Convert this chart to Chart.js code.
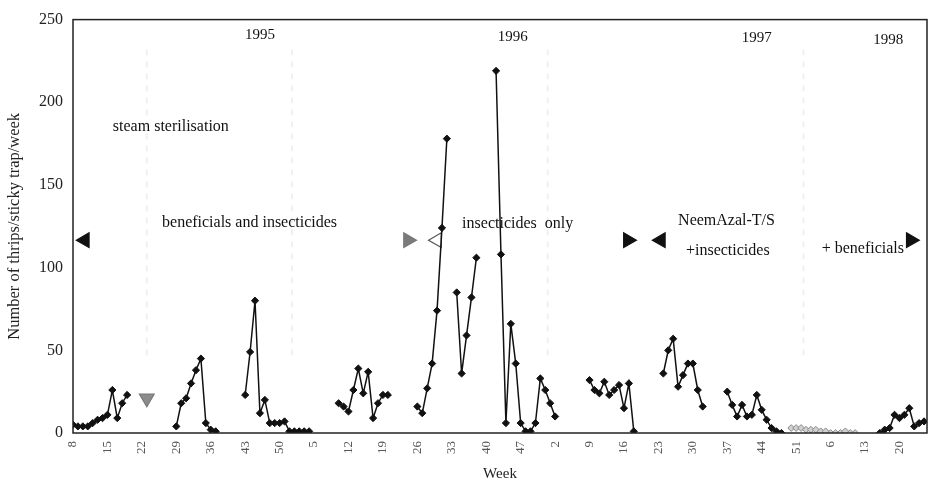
<!DOCTYPE html>
<html>
<head>
<meta charset="utf-8">
<title>Thrips on sticky traps 1995-1998</title>
<script src="https://cdn.jsdelivr.net/npm/chart.js@4"></script>
<style>
  html, body { margin: 0; padding: 0; background: #fff; }
  #wrap { width: 932px; height: 485px; }
</style>
</head>
<body>
<div id="wrap"><canvas id="chart-thrips"></canvas></div>
<script>
// weekly catches per sticky trap, null = no count that week
const counts1995 = [ // weeks 8-52
  5, 4, 4, 4, 6, 8, 9, 11, 26, 9, 18, 23,
  null, null, null, null, null, null, null, null, null,
  4, 18, 21, 30, 38, 45, 6, 2, 1,
  null, null, null, null, null,
  23, 49, 80, 12, 20, 6, 6, 6, 7, 1
];
const counts1996 = [ // weeks 1-52
  1, 1, 1, 1,
  null, null, null, null, null,
  18, 16, 13, 26, 39, 24, 37, 9, 18, 23, 23,
  null, null, null, null, null,
  16, 12, 27, 42, 74, 124, 178,
  null,
  85, 36, 59, 82, 106,
  null, null, null,
  219, 108, 6, 66, 42, 6, 1, 1, 6, 33, 26
];
const counts1997 = [ // weeks 1-52
  18, 10,
  null, null, null, null, null, null,
  32, 26, 24, 31, 23, 26, 29, 15, 30, 1,
  null, null, null, null, null,
  36, 50, 57, 28, 35, 42, 42, 26, 16,
  null, null, null, null,
  25, 17, 10, 17, 10, 11, 23, 14, 8, 3, 1, 0,
  null, null, null, null
];
const counts1998 = [ // weeks 1-25
  null, null, null, null, null, null, null, null, null, null, null, null, null, null, null,
  0, 2, 3, 11, 9, 11, 15, 4, 6, 7
];
// winter 97/98, weak counts from week 50 on
const winterCounts = [3, 3, 3, 2, 2, 2, 1, 1, 0, 0, 0, 1, 0, 0];
const winterFrom = "1997-50";

const seasons = [
  { year: 1995, firstWeek: 8, counts: counts1995 },
  { year: 1996, firstWeek: 1, counts: counts1996 },
  { year: 1997, firstWeek: 1, counts: counts1997 },
  { year: 1998, firstWeek: 1, counts: counts1998 }
];

const yTicks = [0, 50, 100, 150, 200, 250];

// notes in data units: [text, week slot, count]
const yearNotes = [["1995", 38, 240.5], ["1996", 89.4, 239.2], ["1997", 139, 238.6], ["1998", 165.7, 237.4]];
const periodNotes = [
  ["steam sterilisation", 8.1, 185],
  ["beneficials and insecticides", 18.1, 127.4],
  ["insecticides  only", 79.1, 126.8],
  ["NeemAzal-T/S", 123, 128.6],
  ["+insecticides", 124.6, 110],
  ["+ beneficials", 152.2, 111.2]
];
// period start/end arrows
const arrowSlots = [2.4, 68.1, 74, 112.8, 119.5, 170.3, 15];
const arrowLevels = [116.6, 116.6, 116.6, 116.6, 116.6, 116.6, 21];
const arrowTurns = [-90, 90, -90, 90, -90, 90, 180];
const arrowFills = ["#111", "#7a7a7a", "#fff", "#111", "#111", "#111", "#8c8c8c"];
const arrowEdges = ["#111", "#7a7a7a", "#555", "#111", "#111", "#111", "#777"];

const separators = [15, 44.5, 96.5, 148.5];

var weekKeys = [];
var weekNumbers = [];
var counts = [];
seasons.forEach(function (s) {
  s.counts.forEach(function (v, i) {
    weekKeys.push(s.year + "-" + (s.firstWeek + i));
    weekNumbers.push(s.firstWeek + i);
    counts.push(v);
  });
});

var mainPoints = counts.map(function (v, i) { return { x: i, y: v }; });
var winterStart = weekKeys.indexOf(winterFrom);
var winterPoints = winterCounts.map(function (v, i) { return { x: winterStart + i, y: v }; });
var arrowPoints = arrowSlots.map(function (s, i) { return { x: s, y: arrowLevels[i] }; });

var serif = "'Liberation Serif', 'Times New Roman', serif";

const paperPlugin = {
  id: "paper",
  beforeDatasetsDraw: function (chart) {
    var ctx = chart.ctx, x = chart.scales.x, y = chart.scales.y;
    ctx.save();
    ctx.strokeStyle = "rgba(0,0,0,0.06)";
    ctx.lineWidth = 2;
    ctx.setLineDash([6, 6]);
    separators.forEach(function (s) {
      var px = x.getPixelForValue(s);
      ctx.beginPath();
      ctx.moveTo(px, y.getPixelForValue(232));
      ctx.lineTo(px, y.getPixelForValue(45));
      ctx.stroke();
    });
    ctx.setLineDash([]);
    ctx.fillStyle = "#111";
    ctx.textBaseline = "middle";
    ctx.font = "15px " + serif;
    ctx.textAlign = "center";
    yearNotes.forEach(function (n) {
      ctx.fillText(n[0], x.getPixelForValue(n[1]), y.getPixelForValue(n[2]));
    });
    ctx.font = "16px " + serif;
    ctx.textAlign = "left";
    periodNotes.forEach(function (n) {
      ctx.fillText(n[0], x.getPixelForValue(n[1]), y.getPixelForValue(n[2]));
    });
    ctx.restore();
  },
  afterDraw: function (chart) {
    var a = chart.chartArea, ctx = chart.ctx;
    ctx.save();
    ctx.strokeStyle = "#222";
    ctx.lineWidth = 1.5;
    ctx.strokeRect(a.left, a.top, a.right - a.left, a.bottom - a.top);
    ctx.restore();
  }
};

new Chart(document.getElementById("chart-thrips"), {
  type: "line",
  data: {
    datasets: [
      {
        label: "thrips",
        data: mainPoints,
        borderColor: "#111",
        borderWidth: 1.5,
        backgroundColor: "#111",
        pointStyle: "rectRot",
        pointRadius: 3.6,
        pointBorderWidth: 1,
        spanGaps: false,
        tension: 0
      },
      {
        label: "winter",
        data: winterPoints,
        borderColor: "#9a9a9a",
        borderWidth: 1,
        backgroundColor: "#d0d0d0",
        pointBorderColor: "#8a8a8a",
        pointStyle: "rectRot",
        pointRadius: 3.4,
        pointBorderWidth: 1,
        tension: 0
      },
      {
        type: "scatter",
        label: "periods",
        data: arrowPoints,
        showLine: false,
        pointStyle: "triangle",
        pointRadius: 8.5,
        pointRotation: arrowTurns,
        backgroundColor: arrowFills,
        borderColor: arrowEdges,
        pointBorderWidth: 1.2
      }
    ]
  },
  options: {
    responsive: true,
    maintainAspectRatio: false,
    animation: false,
    layout: { autoPadding: false, padding: { top: 17, right: 5, left: 0, bottom: 0 } },
    plugins: {
      legend: { display: false },
      tooltip: { enabled: false }
    },
    scales: {
      x: {
        type: "linear",
        min: 0,
        max: 173.6,
        grid: { display: false, drawTicks: false },
        border: { display: false },
        afterFit: function (scale) {
          scale.height = 52;
          scale.paddingLeft = 0;
          scale.paddingRight = 0;
        },
        ticks: {
          stepSize: 7,
          includeBounds: false,
          autoSkip: false,
          minRotation: 90,
          maxRotation: 90,
          padding: 8,
          color: "#555",
          font: { family: serif, size: 13 },
          callback: function (v) {
            return weekNumbers[v] != null ? String(weekNumbers[v]) : "";
          }
        },
        title: {
          display: true,
          text: "Week",
          color: "#222",
          padding: { top: 0, bottom: 2 },
          font: { family: serif, size: 15 }
        }
      },
      y: {
        min: 0,
        max: 250,
        grid: { display: false, drawTicks: false },
        border: { display: false },
        afterFit: function (scale) { scale.width = 73; },
        afterBuildTicks: function (scale) {
          scale.ticks = yTicks.map(function (v) { return { value: v }; });
        },
        ticks: {
          padding: 10,
          color: "#222",
          font: { family: serif, size: 16 }
        },
        title: {
          display: true,
          text: "Number of thrips/sticky trap/week",
          color: "#222",
          padding: { top: 5, bottom: 0 },
          font: { family: serif, size: 16.5 }
        }
      }
    }
  },
  plugins: [paperPlugin]
});
</script>
</body>
</html>
